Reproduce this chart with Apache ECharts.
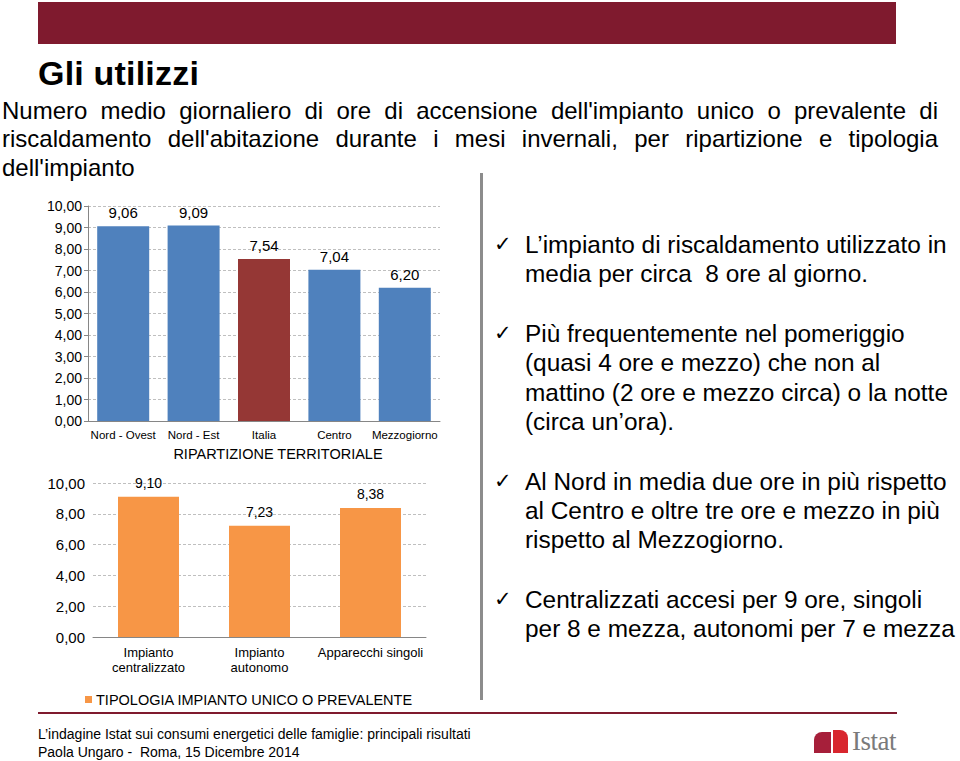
<!DOCTYPE html>
<html>
<head>
<meta charset="utf-8">
<script src="https://cdn.jsdelivr.net/npm/echarts@6/dist/echarts.min.js"></script>
<style>
  html, body { margin:0; padding:0; background:#fff; }
  body { width:960px; height:761px; position:relative; overflow:hidden; font-family:"Liberation Sans", Arial, sans-serif; color:#000; }
  #chart { position:absolute; left:0; top:0; width:960px; height:761px; }
  .abs { position:absolute; z-index:2; pointer-events:none; }
  #bar { left:38px; top:2px; width:858px; height:42px; background:#7F1A2E; }
  #title { left:38px; top:53px; font-size:34px; font-weight:bold; white-space:nowrap; line-height:40px; letter-spacing:0.2px; }
  #sub { left:2px; top:96.5px; width:936px; font-size:24px; line-height:28.5px; }
  #sub .j { text-align:justify; text-align-last:justify; white-space:nowrap; }
  #sep { left:480px; top:173px; width:3px; height:527px; background:#8C8C8C; }
  #bul { left:525px; top:230px; width:440px; font-size:24.4px; line-height:29.3px; }
  #bul .p { position:relative; margin-bottom:30.5px; white-space:nowrap; }
  #bul .ck { position:absolute; left:-31px; top:0; font-family:"DejaVu Sans", sans-serif; font-size:21px; }
  #fline { left:38px; top:712px; width:859px; height:2px; background:#7F1A2E; }
  #foot { left:38px; top:724.5px; font-size:14px; line-height:18px; white-space:nowrap; }
  #logo1 { left:814px; top:732px; width:17px; height:21px; background:#A61F3A; border-top-left-radius:8px; }
  #logo2 { left:833px; top:730px; width:15px; height:23px; background:#D8262E; border-top-right-radius:8px; }
  #logot { left:852px; top:726px; font-family:"Liberation Serif", "DejaVu Serif", serif; font-size:27px; line-height:30px; color:#7A7A7A; letter-spacing:-0.5px; }
</style>
</head>
<body>
<div id="chart"></div>
<div class="abs" id="bar"></div>
<div class="abs" id="title">Gli utilizzi</div>
<div class="abs" id="sub">
  <div class="j">Numero medio giornaliero di ore di accensione dell'impianto unico o prevalente di</div>
  <div class="j">riscaldamento dell'abitazione durante i mesi invernali, per ripartizione e tipologia</div>
  <div>dell'impianto</div>
</div>
<div class="abs" id="sep"></div>
<div class="abs" id="bul">
  <div class="p"><span class="ck">✓</span>L’impianto di riscaldamento utilizzato in<br>media per circa&nbsp; 8 ore al giorno.</div>
  <div class="p"><span class="ck">✓</span>Più frequentemente nel pomeriggio<br>(quasi 4 ore e mezzo) che non al<br>mattino (2 ore e mezzo circa) o la notte<br>(circa un’ora).</div>
  <div class="p"><span class="ck">✓</span>Al Nord in media due ore in più rispetto<br>al Centro e oltre tre ore e mezzo in più<br>rispetto al Mezzogiorno.</div>
  <div class="p"><span class="ck">✓</span>Centralizzati accesi per 9 ore, singoli<br>per 8 e mezza, autonomi per 7 e mezza</div>
</div>
<div class="abs" id="fline"></div>
<div class="abs" id="foot">L’indagine Istat sui consumi energetici delle famiglie: principali risultati<br>Paola Ungaro -&nbsp; Roma, 15 Dicembre 2014</div>
<div class="abs" id="logo1"></div>
<div class="abs" id="logo2"></div>
<div class="abs" id="logot">Istat</div>
<script>
// ---- data ----
const regions = ['Nord - Ovest', 'Nord - Est', 'Italia', 'Centro', 'Mezzogiorno'];
const regionHours = [9.06, 9.09, 7.54, 7.04, 6.20];
const regionAxisName = 'RIPARTIZIONE TERRITORIALE';
const regionTicks = ['0,00','1,00','2,00','3,00','4,00','5,00','6,00','7,00','8,00','9,00','10,00'];

const types = ['Impianto\ncentralizzato', 'Impianto\nautonomo', 'Apparecchi singoli'];
const typeHours = [9.10, 7.23, 8.38];
const typeSeriesName = 'TIPOLOGIA IMPIANTO UNICO O PREVALENTE';
const typeTicks = ['0,00','2,00','4,00','6,00','8,00','10,00'];

// ---- styles ----
const FONT = '"Liberation Sans", Arial, sans-serif';
const BLUE = '#4F81BD', RED = '#953735', ORANGE = '#F79646';
const fmt = v => v.toFixed(2).replace('.', ',');

const chart = echarts.init(document.getElementById('chart'), null, { renderer: 'svg' });
const splitLine = { show: true, lineStyle: { color: '#BFBFBF', type: [3, 2], width: 1 } };
const axisLine = { show: true, lineStyle: { color: '#868686', width: 1 } };

chart.setOption({
  animation: false,
  textStyle: { fontFamily: FONT },
  legend: {
    data: [typeSeriesName],
    left: 80, top: 687,
    icon: 'rect', itemWidth: 7, itemHeight: 7, itemGap: 10,
    textStyle: { fontFamily: FONT, fontSize: 14.5, color: '#000', padding: [0, 0, 0, -1] }
  },
  grid: [
    { left: 88, top: 206, width: 352, height: 215, outerBoundsMode: 'none' },
    { left: 93, top: 483, width: 333, height: 154, outerBoundsMode: 'none' }
  ],
  xAxis: [
    {
      type: 'category', gridIndex: 0, data: regions,
      axisLine: axisLine, axisTick: { show: false },
      axisLabel: { interval: 0, fontSize: 11.5, color: '#000', margin: 8, fontFamily: FONT },
      name: regionAxisName, nameLocation: 'middle', nameGap: 25,
      nameTextStyle: { fontSize: 14.5, color: '#000', padding: [0, 0, 0, 28], fontFamily: FONT }
    },
    {
      type: 'category', gridIndex: 1, data: types,
      axisLine: axisLine, axisTick: { show: false },
      axisLabel: { interval: 0, fontSize: 13, lineHeight: 15, color: '#000', margin: 8, fontFamily: FONT }
    }
  ],
  yAxis: [
    {
      type: 'value', gridIndex: 0, min: 0, max: 10, interval: 1,
      axisLine: axisLine, axisTick: { show: true, length: 4, lineStyle: { color: '#868686' } },
      axisLabel: { fontSize: 14, color: '#000', margin: 6, fontFamily: FONT,
        formatter: v => regionTicks[Math.round(v)] },
      splitLine: splitLine
    },
    {
      type: 'value', gridIndex: 1, min: 0, max: 10, interval: 2,
      axisLine: { show: false }, axisTick: { show: false },
      axisLabel: { fontSize: 15, color: '#000', margin: 8, fontFamily: FONT,
        formatter: v => typeTicks[Math.round(v / 2)] },
      splitLine: splitLine
    }
  ],
  series: [
    {
      type: 'bar', name: 'Ripartizione', xAxisIndex: 0, yAxisIndex: 0,
      barWidth: 52,
      data: regionHours.map((v, i) => ({ value: v, itemStyle: { color: regions[i] === 'Italia' ? RED : BLUE } })),
      label: { show: true, position: 'top', distance: 6, fontSize: 15, color: '#000', fontFamily: FONT,
        formatter: p => fmt(p.value) }
    },
    {
      type: 'bar', name: typeSeriesName, xAxisIndex: 1, yAxisIndex: 1,
      barWidth: 61, itemStyle: { color: ORANGE },
      data: typeHours,
      label: { show: true, position: 'top', distance: 7, fontSize: 14, color: '#000', fontFamily: FONT,
        formatter: p => fmt(p.value) }
    }
  ]
});
</script>
</body>
</html>
